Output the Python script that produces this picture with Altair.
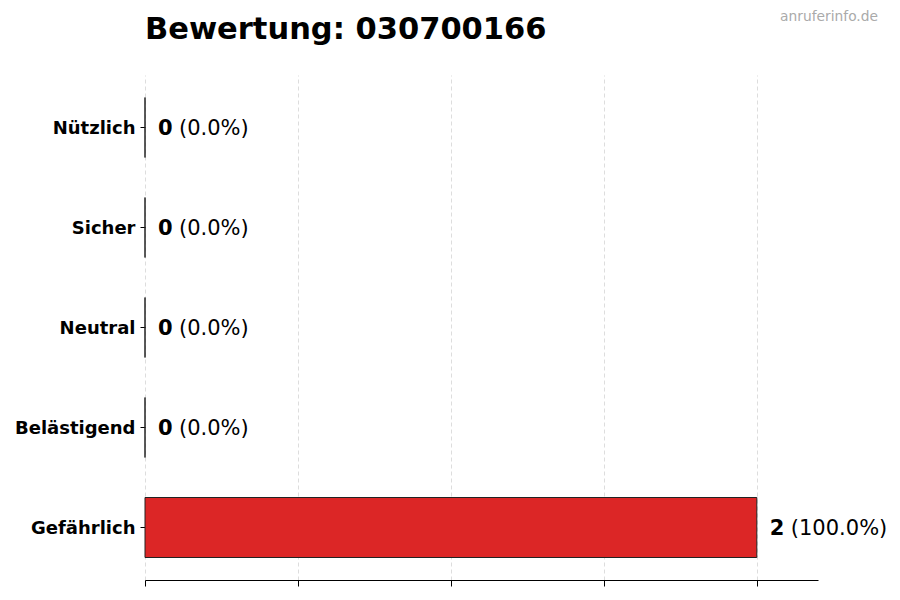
import altair as alt
import pandas as pd

categories = ["Nützlich", "Sicher", "Neutral", "Belästigend", "Gefährlich"]
counts = [0, 0, 0, 0, 2]
percents = [0.0, 0.0, 0.0, 0.0, 100.0]
x_ticks = [0, 0.5, 1, 1.5, 2]
title_text = "Bewertung: 030700166"
watermark = "anruferinfo.de"

df = pd.DataFrame({
    "cat": categories,
    "count": counts,
    "pct": [f"({p:.1f}%)" for p in percents],
})

FONT = "DejaVu Sans"

y_enc = alt.Y(
    "cat:N", sort=categories, title=None,
    scale=alt.Scale(paddingInner=0.4, paddingOuter=0.225),
    axis=alt.Axis(labelFont=FONT, labelFontSize=18, labelFontWeight="bold",
                  labelColor="black", tickColor="black", tickSize=5,
                  labelPadding=5, labelOffset=1.5, domain=False, grid=False),
)
x_enc = alt.X(
    "count:Q", title=None,
    scale=alt.Scale(domain=[0, 2.2], nice=False, zero=True),
    axis=alt.Axis(values=x_ticks, labels=False, tickSize=6, tickColor="black",
                  domainColor="black", domainWidth=1, grid=True,
                  gridDash=[4, 3], gridColor="#d4d4d4", gridWidth=0.8),
)

bars = alt.Chart(df).mark_bar(color="#dc2626", stroke="#222222", strokeWidth=1).encode(
    x=x_enc, y=y_enc
)

vals = alt.Chart(df).mark_text(
    align="left", baseline="middle", dx=13, dy=1, font=FONT, fontSize=21,
    fontWeight="bold", color="black"
).encode(x="count:Q", y=alt.Y("cat:N", sort=categories), text="count:Q")

pcts = alt.Chart(df).mark_text(
    align="left", baseline="middle", dx=34, dy=1, font=FONT, fontSize=21,
    fontWeight="normal", color="black"
).encode(x="count:Q", y=alt.Y("cat:N", sort=categories), text="pct:N")

title = alt.Chart(pd.DataFrame({"t": [title_text]})).mark_text(
    align="left", baseline="alphabetic", font=FONT, fontSize=30.5,
    fontWeight="bold", color="black"
).encode(x=alt.value(0), y=alt.value(-36), text="t:N")

wm = alt.Chart(pd.DataFrame({"t": [watermark]})).mark_text(
    align="right", baseline="middle", font=FONT, fontSize=13.8, color="#aaaaaa"
).encode(x=alt.value(733), y=alt.value(-58), text="t:N")

chart = alt.layer(bars, vals, pcts, title, wm).properties(
    width=673, height=505,
    autosize=alt.AutoSizeParams(type="none"),
    padding={"left": 137, "top": 67, "right": 70, "bottom": 12},
).configure_view(stroke=None)

chart.save("out.html", embed_options={"renderer": "svg", "actions": False})
